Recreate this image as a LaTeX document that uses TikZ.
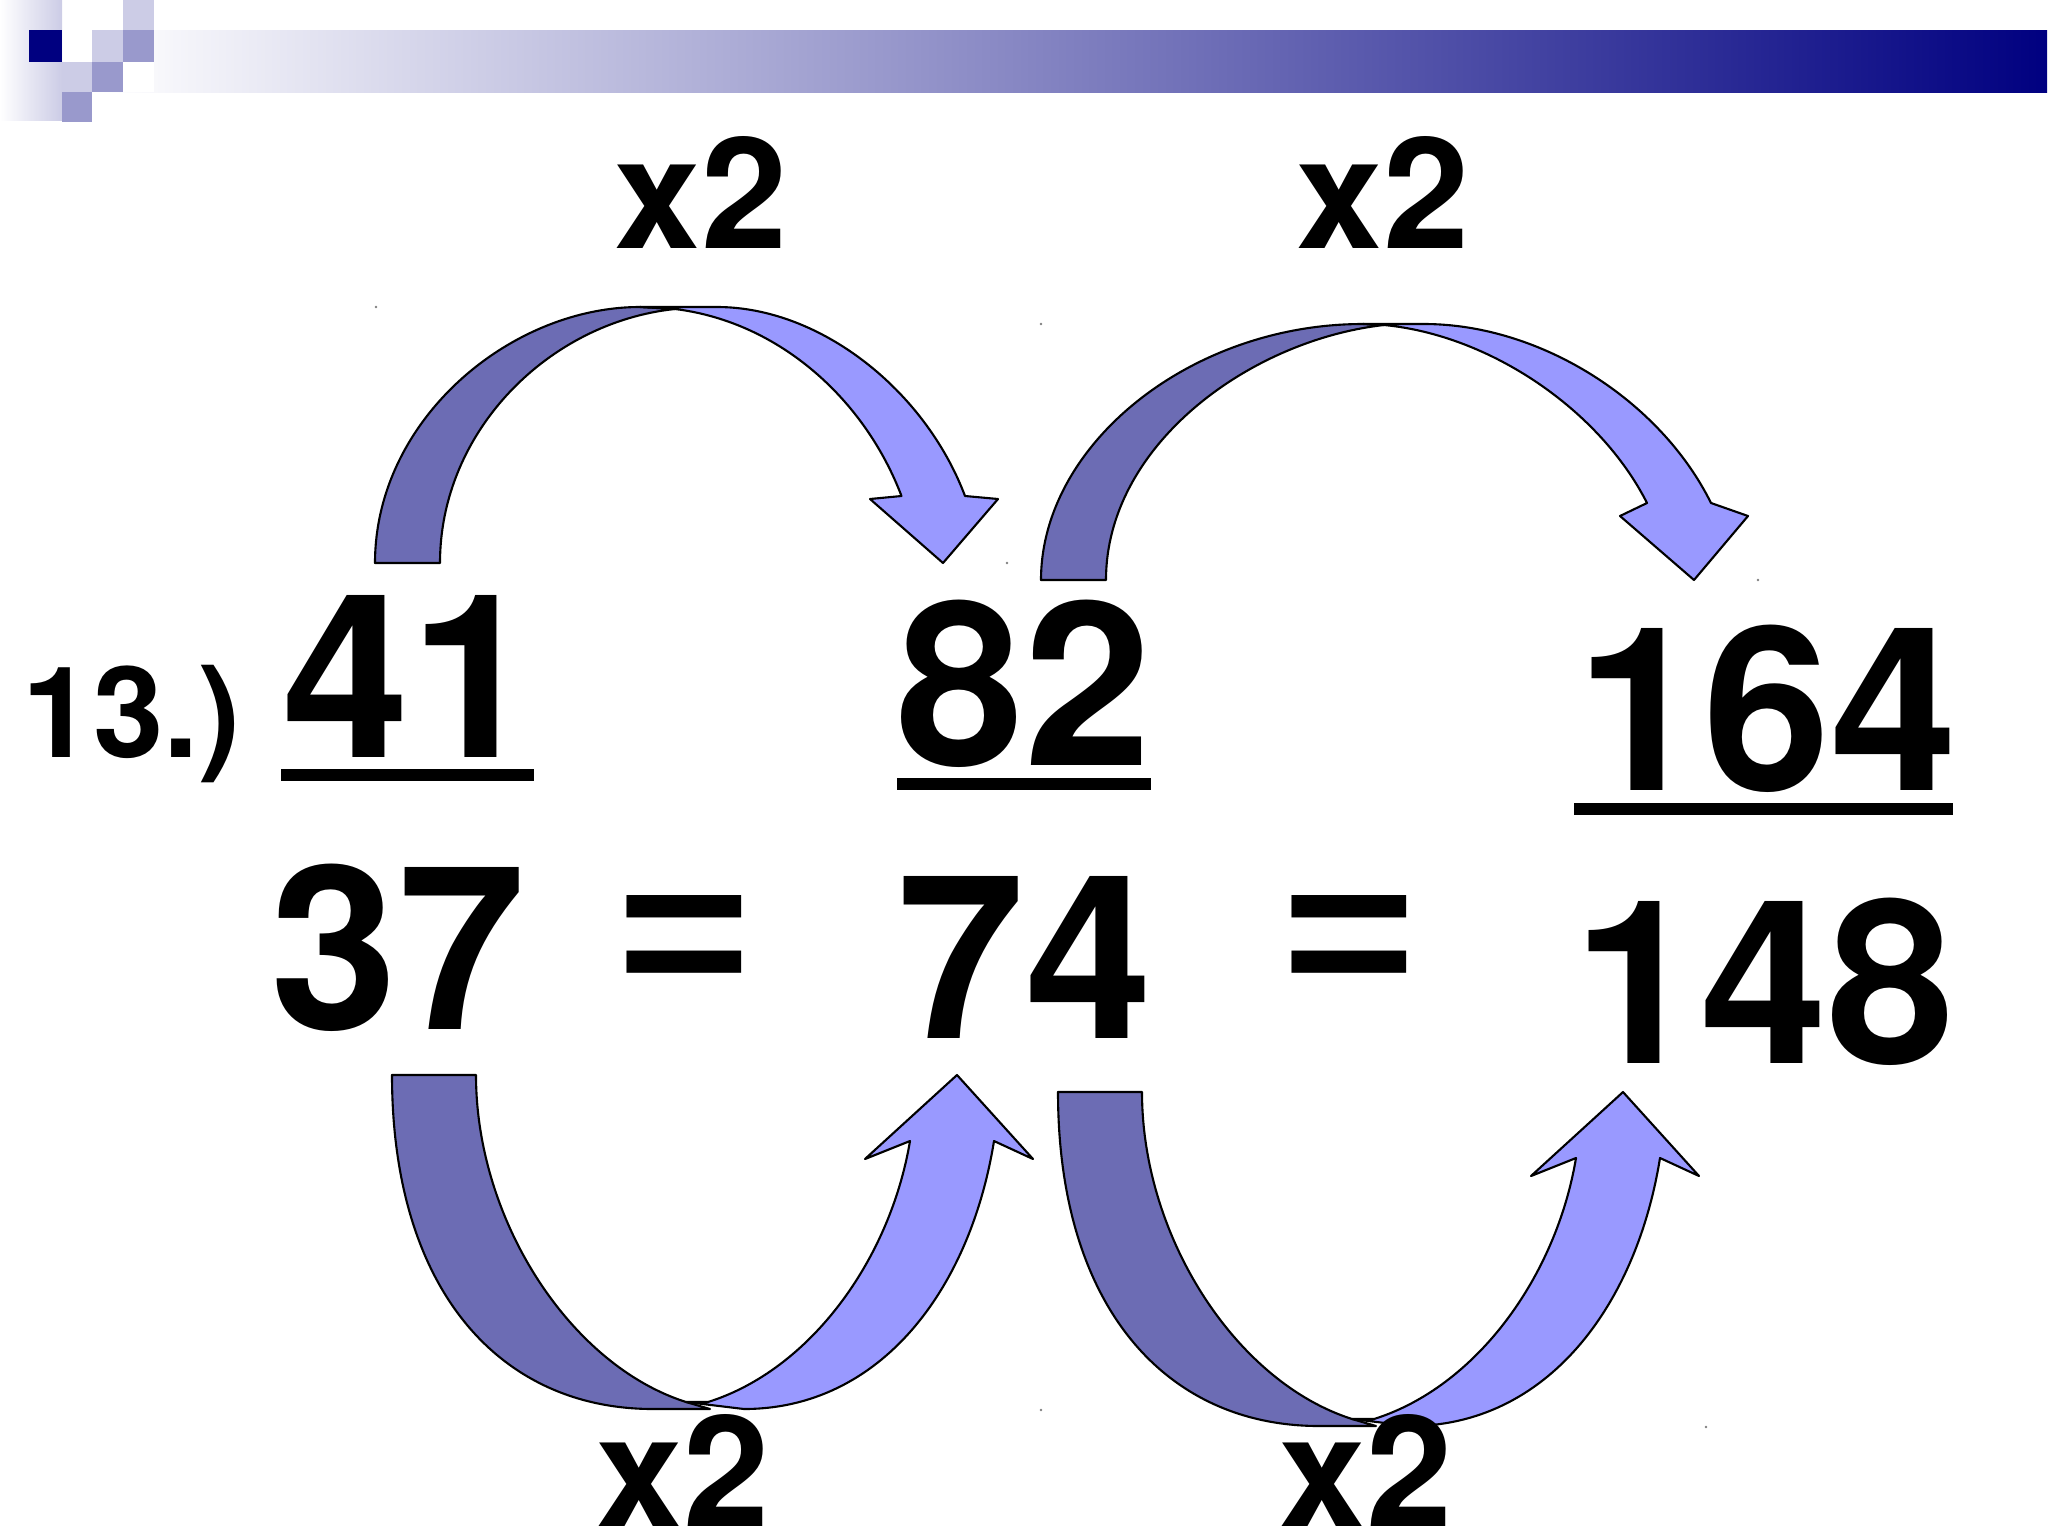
\documentclass[tikz,border=0pt]{standalone}
\usepackage{fontspec}
\setmainfont{TeX Gyre Heros}
\newfontfamily\eqfont{Liberation Sans}
\definecolor{navy}{HTML}{000080}
\definecolor{darkband}{HTML}{6C6CB4}
\definecolor{lightband}{HTML}{9999FF}
\definecolor{paleblock}{HTML}{CCCCE6}
\definecolor{midblock}{HTML}{9999CC}
\tikzset{
	darkarrow/.style={draw=black, line width=0.6pt, line join=round, fill=darkband},
	lightarrow/.style={draw=black, line width=0.6pt, line join=round, fill=lightband},
	bignum/.style={anchor=base, inner sep=0pt, font=\fontsize{65}{70}\selectfont\bfseries},
	timestwo/.style={anchor=base, inner sep=0pt, font=\fontsize{44}{48}\selectfont\bfseries},
	problem/.style={anchor=base, inner sep=0pt, font=\fontsize{36}{40}\selectfont\bfseries}
}

\begin{document}
\begin{tikzpicture}[x=0.01cm, y=-0.01cm]
	\useasboundingbox (0,0) rectangle (2048,1536);
	% slide banner
	\shade[left color=white, right color=navy] (100,30) rectangle (2047,92);
	\fill[white] (100,30) rectangle (154,92);
	\shade[left color=white, right color=paleblock] (0,0) rectangle (62,120);
	\fill[navy] (29,30) rectangle (62,62);
	\fill[paleblock] (123,0) rectangle (154,30);
	\fill[paleblock] (92,30) rectangle (123,62);
	\fill[midblock] (123,30) rectangle (154,62);
	\fill[paleblock] (62,62) rectangle (92,92);
	\fill[midblock] (92,62) rectangle (123,92);
	\fill[midblock] (62,92) rectangle (92,122);
	% top arrows
	\draw[darkarrow] (375,563) .. controls (375,420) and (510,307) .. (640,307) -- (675,309)
		.. controls (550,322) and (440,430) .. (440,563) -- cycle;
	\draw[lightarrow] (675,309) -- (640,307) -- (717,307) .. controls (820,307) and (925,390) .. (965,496)
		-- (998,499) -- (943,563) -- (870,499) -- (901.5,496)
		.. controls (865,400) and (780,322) .. (675,309) -- cycle;
	\draw[darkarrow] (1041,580) .. controls (1041,445) and (1190,324) .. (1363,324) -- (1384,325)
		.. controls (1250,340) and (1106,445) .. (1106,580) -- cycle;
	\draw[lightarrow] (1384,325) -- (1363,324) -- (1424,324) .. controls (1540,324) and (1660,400) .. (1711,503)
		-- (1748,516) -- (1694,580) -- (1620,516) -- (1647,503)
		.. controls (1600,410) and (1490,335) .. (1384,325) -- cycle;
	% bottom arrows
	\draw[darkarrow] (392,1075) .. controls (392,1290) and (500,1409) .. (653,1409) -- (710,1409) -- (686,1402)
		.. controls (570,1365) and (476,1220) .. (476,1075) -- cycle;
	\draw[lightarrow] (686,1402) -- (708,1402) .. controls (810,1370) and (890,1260) .. (910,1141)
		-- (865,1159) -- (957,1075) -- (1033,1159) -- (994,1141)
		.. controls (970,1290) and (880,1409) .. (744,1409) -- cycle;
	\draw[darkarrow] (1058,1092) .. controls (1058,1307) and (1166,1426) .. (1319,1426) -- (1376,1426) -- (1352,1419)
		.. controls (1236,1382) and (1142,1237) .. (1142,1092) -- cycle;
	\draw[lightarrow] (1352,1419) -- (1374,1419) .. controls (1476,1387) and (1556,1277) .. (1576,1158)
		-- (1531,1176) -- (1623,1092) -- (1699,1176) -- (1660,1158)
		.. controls (1636,1307) and (1546,1426) .. (1410,1426) -- cycle;
	% specks at the arrows' corners
	\foreach \px/\py in {376/307, 1041/324, 1007/563, 1758/580, 1041/1410, 1706/1427}
		\fill[gray] (\px,\py) circle (0.4pt);
	% fraction bars
	\fill (281,769) rectangle (534,781);
	\fill (897,778) rectangle (1151,790);
	\fill (1574,803) rectangle (1953,815);
	% texts
	\node[problem] (label) at (132,757) {13.)};
	\node[bignum] (numa) at (410,757) {41};
	\node[bignum] (numb) at (1024,765) {82};
	\node[bignum] (numc) at (1767,790) {164};
	\node[bignum] (dena) at (398,1029) {37};
	\node[bignum] (denb) at (1025,1038) {74};
	\node[bignum] (denc) at (1764,1063) {148};
	\node[bignum] (eqa) at (684,1002) {\scalebox{1}[0.9]{\eqfont =}};
	\node[bignum] (eqb) at (1349,1002) {\scalebox{1}[0.9]{\eqfont =}};
	\node[timestwo] (topa) at (701,248) {x2};
	\node[timestwo] (topb) at (1383,248) {x2};
	\node[timestwo] (bota) at (683,1526) {x2};
	\node[timestwo] (botb) at (1366,1526) {x2};
\end{tikzpicture}
\end{document}
